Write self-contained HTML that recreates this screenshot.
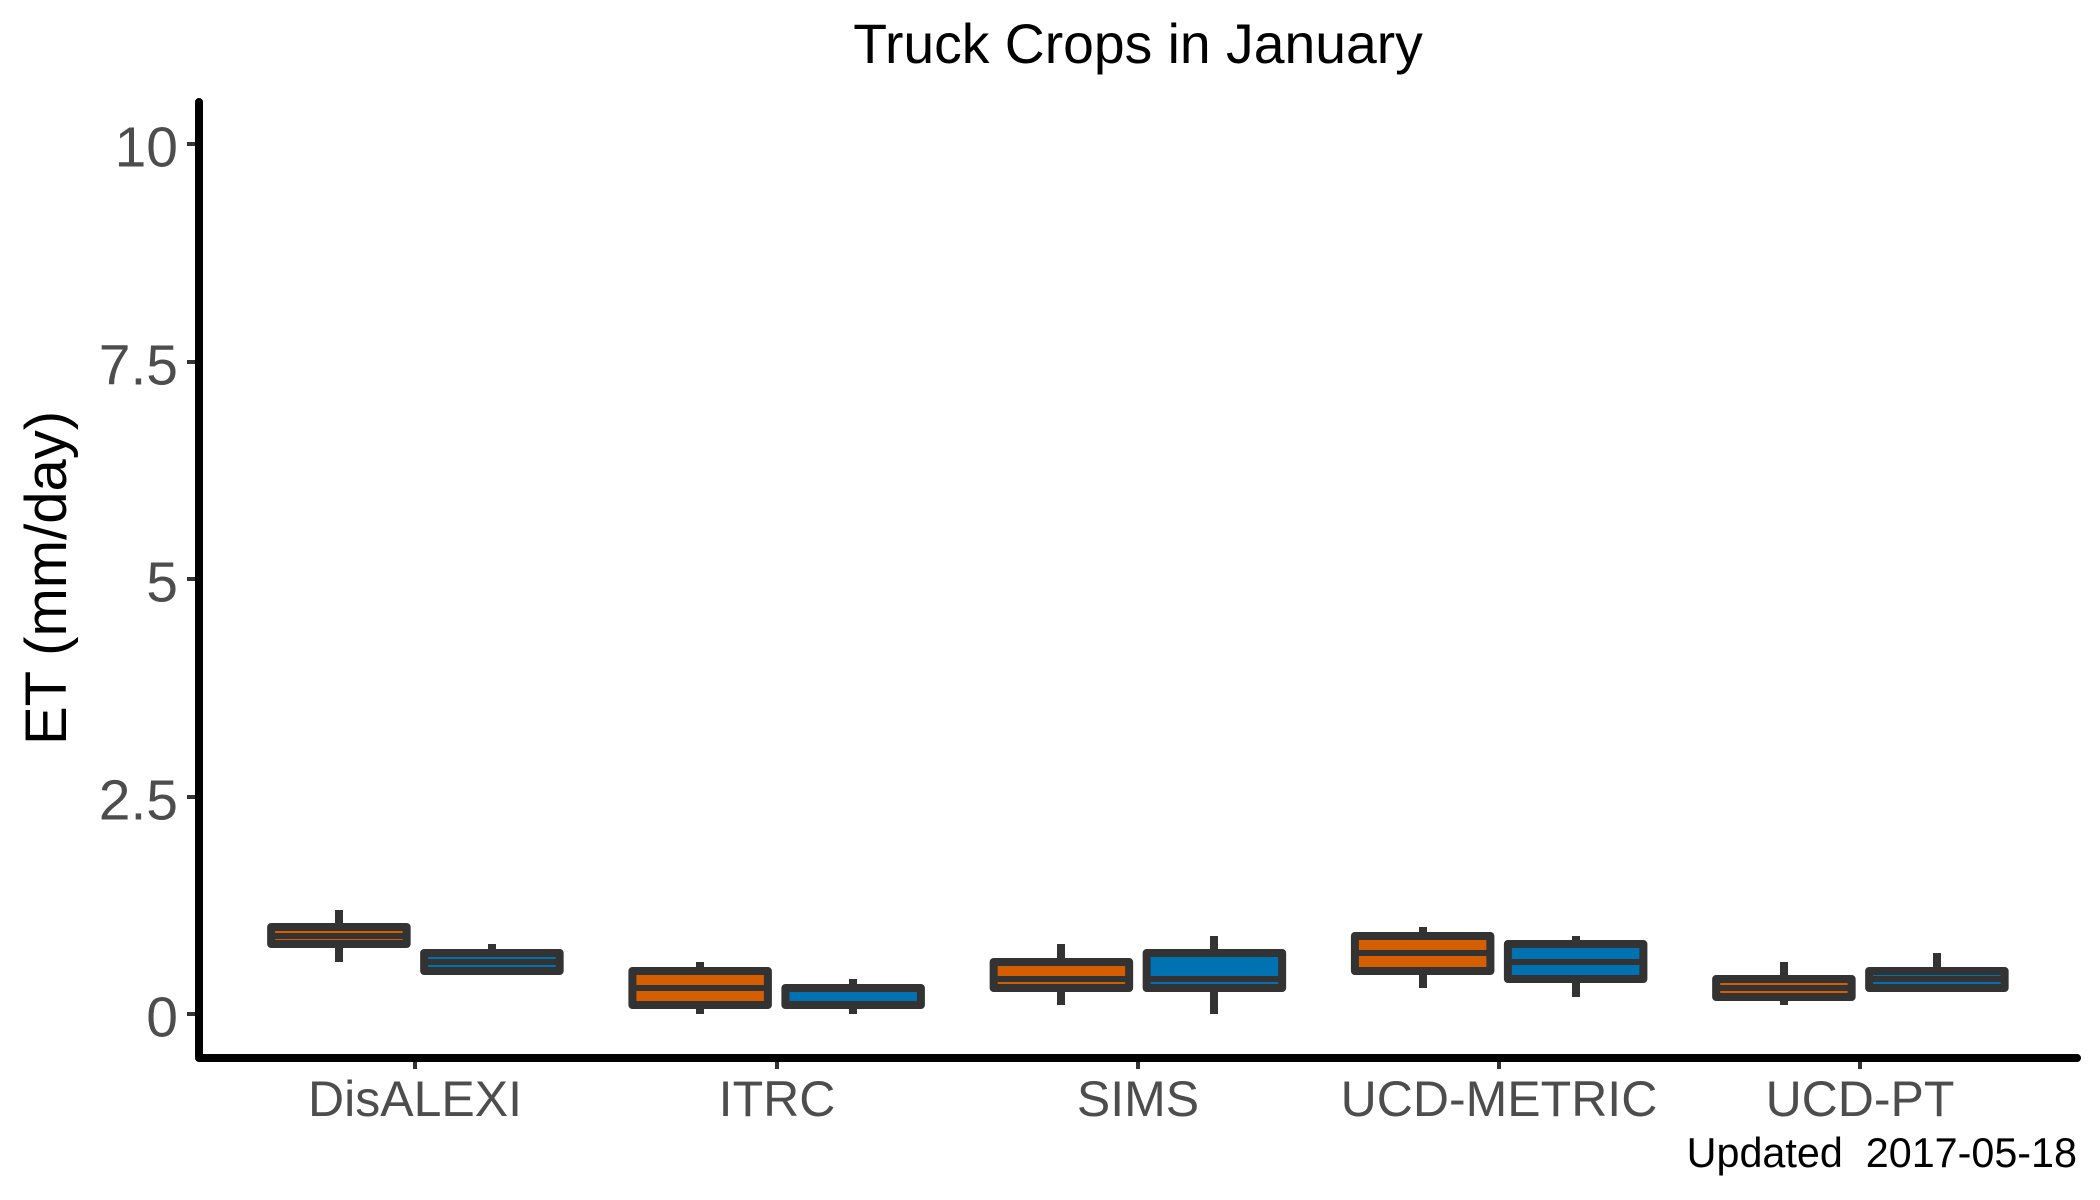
<!DOCTYPE html>
<html lang="en">
<head>
<meta charset="utf-8">
<title>Truck Crops in January</title>
<style>
  html, body { margin: 0; padding: 0; background: #ffffff; }
  body { width: 2100px; height: 1200px; overflow: hidden; }
  svg { display: block; font-family: "Liberation Sans", Arial, sans-serif; }
  .tick-label { fill: #4D4D4D; }
</style>
</head>
<body>
<svg id="chart" xmlns="http://www.w3.org/2000/svg" width="2100" height="1200" viewBox="0 0 2100 1200">
  <rect x="0" y="0" width="2100" height="1200" fill="#ffffff"/>
  <text x="1138" y="63" font-size="55.3" text-anchor="middle" fill="#000000">Truck Crops in January</text>
  <text transform="translate(66,578) rotate(-90)" font-size="58" text-anchor="middle" fill="#000000">ET (mm/day)</text>
  <g id="y-ticks"></g>
  <g id="x-ticks"></g>
  <g id="boxes"></g>
  <path d="M199,102 L199,1058 L2077,1058" fill="none" stroke="#000000" stroke-width="8" stroke-linecap="round" stroke-linejoin="round"/>
  <text x="2077" y="1167" font-size="41.3" text-anchor="end" fill="#000000" style="white-space:pre" xml:space="preserve">Updated  2017-05-18</text>
</svg>
<script>
const categories = ["DisALEXI", "ITRC", "SIMS", "UCD-METRIC", "UCD-PT"];
const yTickValues = [0, 2.5, 5, 7.5, 10];
const yTickLabels = ["0", "2.5", "5", "7.5", "10"];

const orangeWhiskerLow  = [0.6, 0.0, 0.1, 0.3, 0.1];
const orangeQ1          = [0.8, 0.1, 0.3, 0.5, 0.2];
const orangeMedian      = [0.9, 0.3, 0.4, 0.7, 0.3];
const orangeQ3          = [1.0, 0.5, 0.6, 0.9, 0.4];
const orangeWhiskerHigh = [1.2, 0.6, 0.8, 1.0, 0.6];

const blueWhiskerLow  = [0.5, 0.0, 0.0, 0.2, 0.3];
const blueQ1          = [0.5, 0.1, 0.3, 0.4, 0.3];
const blueMedian      = [0.6, 0.3, 0.4, 0.6, 0.4];
const blueQ3          = [0.7, 0.3, 0.7, 0.8, 0.5];
const blueWhiskerHigh = [0.8, 0.4, 0.9, 0.9, 0.7];

const SVG_NS = "http://www.w3.org/2000/svg";
const INK = "#333333";

function xScale(i) { return 415.4 + 361.25 * i; }
function yScale(v) { return Math.round(1014 - 87 * v); }

function make(tag, attrs, parent) {
  const el = document.createElementNS(SVG_NS, tag);
  Object.keys(attrs).forEach(function (k) { el.setAttribute(k, attrs[k]); });
  parent.appendChild(el);
  return el;
}

const yTickGroup = document.getElementById("y-ticks");
yTickValues.forEach(function (v, i) {
  const y = yScale(v);
  const mark = make("line", { x1: 187, x2: 199, y1: y, y2: y, stroke: INK, "stroke-width": 4, "shape-rendering": "crispEdges" }, yTickGroup);
  
  
  const label = make("text", { x: 178, y: y + 22.5, "font-size": 57, "text-anchor": "end", class: "tick-label" }, yTickGroup);
  label.textContent = yTickLabels[i];
  
  
});

const xTickGroup = document.getElementById("x-ticks");
categories.forEach(function (name, i) {
  const x = Math.round(xScale(i));
  const mark = make("line", { x1: x, x2: x, y1: 1058, y2: 1069, stroke: INK, "stroke-width": 4, "shape-rendering": "crispEdges" }, xTickGroup);
  
  
  const label = make("text", { x: x, y: 1116, "font-size": 50, "text-anchor": "middle", class: "tick-label" }, xTickGroup);
  label.textContent = name;
  
  
});

function drawBox(parent, cx, low, q1, median, q3, high, fill) {
  const halfWidth = 67.75;
  const whisker = make("path", {
    d: "M" + Math.round(cx) + "," + yScale(high) + " L" + Math.round(cx) + "," + yScale(q3) +
       " M" + Math.round(cx) + "," + yScale(q1) + " L" + Math.round(cx) + "," + yScale(low),
    stroke: INK, "stroke-width": 8, fill: "none", "shape-rendering": "crispEdges"
  }, parent);
  
  
  const box = make("rect", {
    x: cx - halfWidth, y: yScale(q3), width: halfWidth * 2, height: yScale(q1) - yScale(q3),
    fill: fill, stroke: INK, "stroke-width": 8, "stroke-linejoin": "round"
  }, parent);
  
  
  const med = make("line", {
    x1: cx - halfWidth, x2: cx + halfWidth, y1: yScale(median), y2: yScale(median),
    stroke: INK, "stroke-width": 6, "shape-rendering": "crispEdges"
  }, parent);
  
  
}

const boxGroup = document.getElementById("boxes");
categories.forEach(function (name, i) {
  const g = make("g", {}, boxGroup);
  
  
  drawBox(g, xScale(i) - 76.5, orangeWhiskerLow[i], orangeQ1[i], orangeMedian[i], orangeQ3[i], orangeWhiskerHigh[i], "#D55E00");
  drawBox(g, xScale(i) + 76.5, blueWhiskerLow[i], blueQ1[i], blueMedian[i], blueQ3[i], blueWhiskerHigh[i], "#0072B2");
});
</script>
</body>
</html>
